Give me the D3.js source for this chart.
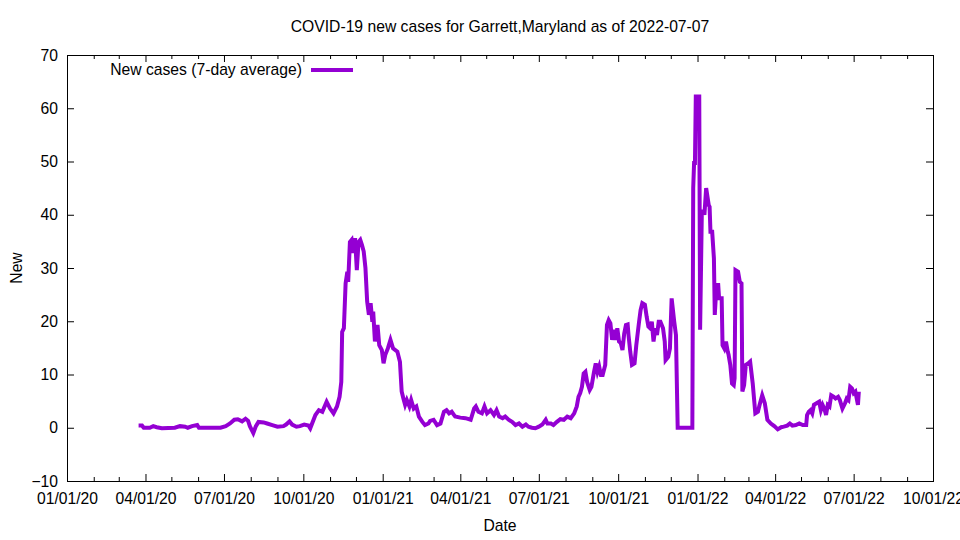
<!DOCTYPE html>
<html>
<head>
<meta charset="utf-8">
<script src="https://cdn.jsdelivr.net/npm/d3@7"></script>
<style>
  body { margin: 0; background: #fff; }
  svg { font-family: "Liberation Sans", Arial, sans-serif; }
</style>
</head>
<body>
<script>
'use strict';

// 7-day average of new cases
var dates = [
  "2020-03-24","2020-03-28","2020-03-30","2020-04-06","2020-04-10","2020-04-14","2020-04-20",
  "2020-05-05","2020-05-11","2020-05-17","2020-05-20","2020-05-25","2020-05-31","2020-06-02",
  "2020-06-27","2020-07-03","2020-07-08","2020-07-13","2020-07-17","2020-07-22","2020-07-26",
  "2020-07-29","2020-07-31","2020-08-04","2020-08-07","2020-08-10","2020-08-16","2020-08-20",
  "2020-08-26","2020-09-01","2020-09-08","2020-09-11","2020-09-15","2020-09-18","2020-09-23",
  "2020-09-27","2020-10-02","2020-10-07","2020-10-09","2020-10-15","2020-10-19","2020-10-23",
  "2020-10-28","2020-11-01","2020-11-05","2020-11-09","2020-11-12","2020-11-14","2020-11-15",
  "2020-11-17","2020-11-19","2020-11-21","2020-11-22","2020-11-24","2020-11-26","2020-11-28",
  "2020-11-30","2020-12-02","2020-12-04","2020-12-06","2020-12-08","2020-12-10","2020-12-12",
  "2020-12-14","2020-12-16","2020-12-18","2020-12-20","2020-12-21","2020-12-23","2020-12-26",
  "2020-12-28","2020-12-31","2021-01-02","2021-01-04","2021-01-07","2021-01-10","2021-01-13",
  "2021-01-18","2021-01-21","2021-01-23","2021-01-25","2021-01-27","2021-01-29","2021-02-01",
  "2021-02-03","2021-02-06","2021-02-09","2021-02-12","2021-02-16","2021-02-19","2021-02-23",
  "2021-02-25","2021-03-01","2021-03-05","2021-03-09","2021-03-13","2021-03-16","2021-03-19",
  "2021-03-22","2021-03-26","2021-04-01","2021-04-07","2021-04-13","2021-04-17","2021-04-19",
  "2021-04-22","2021-04-26","2021-04-29","2021-05-02","2021-05-06","2021-05-10","2021-05-13",
  "2021-05-16","2021-05-20","2021-05-23","2021-05-27","2021-05-31","2021-06-04","2021-06-08",
  "2021-06-12","2021-06-16","2021-06-19","2021-06-23","2021-06-27","2021-07-01","2021-07-05",
  "2021-07-09","2021-07-11","2021-07-15","2021-07-18","2021-07-22","2021-07-26","2021-07-30",
  "2021-08-03","2021-08-07","2021-08-11","2021-08-14","2021-08-16","2021-08-18","2021-08-20",
  "2021-08-22","2021-08-24","2021-08-26","2021-08-29","2021-08-31","2021-09-03","2021-09-05",
  "2021-09-07","2021-09-09","2021-09-11","2021-09-13","2021-09-16","2021-09-18","2021-09-20",
  "2021-09-22","2021-09-24","2021-09-26","2021-09-28","2021-09-30","2021-10-02","2021-10-04",
  "2021-10-06","2021-10-08","2021-10-10","2021-10-12","2021-10-13","2021-10-15","2021-10-17",
  "2021-10-20","2021-10-22","2021-10-25","2021-10-27","2021-10-29","2021-11-01","2021-11-03",
  "2021-11-05","2021-11-07","2021-11-09","2021-11-11","2021-11-13","2021-11-15","2021-11-17",
  "2021-11-19","2021-11-22","2021-11-24","2021-11-25","2021-11-28","2021-11-30","2021-12-02",
  "2021-12-05","2021-12-07","2021-12-09","2021-12-26","2021-12-27","2021-12-28","2021-12-29",
  "2021-12-30","2022-01-03","2022-01-04","2022-01-06","2022-01-08","2022-01-09","2022-01-11",
  "2022-01-14","2022-01-15","2022-01-16","2022-01-18","2022-01-20","2022-01-21","2022-01-23",
  "2022-01-25","2022-01-26","2022-01-29","2022-01-30","2022-02-01","2022-02-03","2022-02-05",
  "2022-02-06","2022-02-08","2022-02-10","2022-02-12","2022-02-13","2022-02-14","2022-02-17",
  "2022-02-19","2022-02-21","2022-02-22","2022-02-24","2022-02-26","2022-03-01","2022-03-03",
  "2022-03-06","2022-03-09","2022-03-12","2022-03-14","2022-03-17","2022-03-20","2022-03-23",
  "2022-03-27","2022-03-31","2022-04-04","2022-04-08","2022-04-11","2022-04-15","2022-04-18",
  "2022-04-21","2022-04-25","2022-04-29","2022-05-03","2022-05-07","2022-05-08","2022-05-10",
  "2022-05-12","2022-05-14","2022-05-16","2022-05-19","2022-05-22","2022-05-24","2022-05-26",
  "2022-05-28","2022-05-30","2022-06-01","2022-06-03","2022-06-05","2022-06-08","2022-06-10",
  "2022-06-13","2022-06-15","2022-06-18","2022-06-21","2022-06-23","2022-06-25","2022-06-27",
  "2022-06-29","2022-07-01","2022-07-03","2022-07-06","2022-07-07"
];

var newCases = [
  0.4, 0.4, 0.0, 0.0, 0.3, 0.1, -0.1,
  0.0, 0.3, 0.2, 0.0, 0.3, 0.5, 0.0,
  0.0, 0.3, 0.8, 1.5, 1.6, 1.2, 1.7,
  1.3, 0.3, -1.0, 0.3, 1.1, 1.0, 0.8,
  0.5, 0.2, 0.3, 0.6, 1.2, 0.6, 0.2,
  0.3, 0.6, 0.4, -0.1, 2.4, 3.3, 3.0,
  4.9, 3.6, 2.7, 4.0, 5.8, 8.6, 18.0,
  18.7, 27.1, 29.3, 27.4, 34.9, 35.3, 32.8,
  35.6, 29.6, 34.9, 35.3, 34.3, 33.1, 30.0,
  23.7, 21.2, 23.4, 19.9, 21.8, 16.2, 19.3,
  15.5, 14.6, 12.1, 13.7, 14.9, 16.5, 14.9,
  14.3, 12.4, 6.8, 5.5, 4.3, 5.2, 4.0,
  5.2, 3.6, 4.0, 2.1, 1.1, 0.5, 0.8,
  1.3, 1.5, 0.5, 0.8, 3.0, 3.3, 2.7,
  3.0, 2.1, 1.9, 1.8, 1.5, 3.6, 4.0,
  3.0, 2.7, 4.0, 2.7, 3.3, 2.4, 3.3,
  2.1, 1.8, 2.1, 1.5, 1.1, 0.5, 0.8,
  0.2, 0.6, 0.2, 0.0, -0.1, 0.2, 0.6,
  1.5, 0.8, 0.8, 0.5, 1.1, 1.6, 1.5,
  2.1, 1.8, 2.7, 4.0, 5.8, 6.5, 7.7,
  10.2, 10.5, 8.6, 7.1, 7.7, 10.5, 12.1,
  10.5, 11.5, 9.9, 9.9, 11.8, 19.3, 20.2,
  19.6, 16.5, 18.4, 16.5, 18.7, 16.2, 15.9,
  14.6, 17.7, 19.3, 19.4, 17.4, 14.3, 11.8,
  12.1, 15.5, 19.6, 22.1, 23.4, 23.1, 20.9,
  19.0, 18.7, 19.9, 16.2, 18.7, 17.4, 19.9,
  19.9, 18.7, 16.2, 12.7, 13.3, 14.9, 24.3,
  19.9, 17.4, 0.0, 0.0, 45.0, 49.7, 49.7,
  62.2, 62.2, 18.4, 40.6, 40.6, 40.0, 45.0,
  41.8, 41.5, 36.8, 36.8, 31.8, 21.2, 26.8,
  26.8, 24.3, 24.3, 15.5, 14.9, 16.2, 14.3,
  13.7, 11.8, 8.3, 8.0, 9.3, 29.6, 29.3,
  27.4, 27.1, 6.8, 8.0, 11.8, 12.1, 12.4,
  8.3, 2.7, 3.0, 4.3, 6.1, 4.6, 1.5,
  0.8, 0.3, -0.3, 0.1, 0.2, 0.4, 0.8,
  0.4, 0.5, 0.8, 0.5, 0.5, 2.4, 3.0,
  3.3, 2.7, 4.3, 4.6, 4.9, 3.3, 4.3,
  3.6, 2.4, 4.3, 4.0, 6.1, 5.8, 5.5,
  5.8, 5.2, 3.6, 4.6, 5.5, 5.2, 7.7,
  7.4, 6.5, 6.8, 4.3, 6.8
];

var xDomain = ["2020-01-01", "2022-10-01"];
var yTicks = [-10, 0, 10, 20, 30, 40, 50, 60, 70];

var title = "COVID-19 new cases for Garrett,Maryland as of 2022-07-07";
var seriesLabel = "New cases (7-day average)";
var lineColor = "#9400d3";
var fontSize = "15.7px";

var parse = d3.utcParse("%Y-%m-%d");
var data = dates.map(function(d, i) {
  return {date: parse(d), value: newCases[i]};
});

var W = 960, H = 540;
var margin = {top: 55, right: 27, bottom: 59, left: 67};
var width = W - margin.left - margin.right;
var height = H - margin.top - margin.bottom;

var svg = d3.select("body")
  .append("svg")
  .attr("width", W)
  .attr("height", H);

var g = svg.append("g")
  .attr("transform", "translate(" + margin.left + "," + margin.top + ")");

var x = d3.scaleUtc()
  .domain(xDomain.map(parse))
  .range([0, width]);

var y = d3.scaleLinear()
  .domain([-10, 70])
  .range([height, 0]);

var majorTicks = d3.utcMonth.every(3).range(x.domain()[0], d3.utcDay.offset(x.domain()[1], 1));
var minorTicks = d3.utcMonth.range(x.domain()[0], x.domain()[1])
  .filter(function(d) { return d.getUTCMonth() % 3 !== 0; });

var fmt = d3.utcFormat("%m/%d/%y");

// inward ticks, gnuplot style
function styleAxis(sel) {
  sel.select(".domain").remove();
  sel.selectAll("line").attr("stroke", "#000");
  sel.selectAll("text")
    .attr("fill", "#000")
    .style("font-size", fontSize)
    .style("font-family", "'Liberation Sans', Arial, sans-serif");
}

g.append("g")
  .attr("transform", "translate(0," + height + ")")
  .call(d3.axisBottom(x).tickValues(majorTicks).tickFormat(fmt).tickSize(-7).tickPadding(12))
  .call(styleAxis);

g.append("g")
  .attr("transform", "translate(0," + height + ")")
  .call(d3.axisBottom(x).tickValues(minorTicks).tickFormat("").tickSize(-4))
  .call(styleAxis);

g.append("g")
  .call(d3.axisTop(x).tickValues(majorTicks).tickFormat("").tickSize(-7))
  .call(styleAxis);

g.append("g")
  .call(d3.axisTop(x).tickValues(minorTicks).tickFormat("").tickSize(-4))
  .call(styleAxis);

g.append("g")
  .call(d3.axisLeft(y).tickValues(yTicks).tickSize(-7).tickPadding(9))
  .call(styleAxis);

g.append("g")
  .attr("transform", "translate(" + width + ",0)")
  .call(d3.axisRight(y).tickValues(yTicks).tickFormat("").tickSize(-7))
  .call(styleAxis);

// border
g.append("rect")
  .attr("width", width)
  .attr("height", height)
  .attr("fill", "none")
  .attr("stroke", "#000")
  .attr("stroke-width", 1)
  .attr("shape-rendering", "crispEdges");

var line = d3.line()
  .x(function(d) { return x(d.date); })
  .y(function(d) { return y(d.value); });

g.append("path")
  .datum(data)
  .attr("fill", "none")
  .attr("stroke", lineColor)
  .attr("stroke-width", 4)
  .attr("stroke-linejoin", "miter")
  .attr("d", line);

// legend
g.append("text")
  .attr("x", 235)
  .attr("y", 15)
  .attr("dy", "0.35em")
  .attr("text-anchor", "end")
  .style("font-size", fontSize)
  .text(seriesLabel);

g.append("line")
  .attr("x1", 244)
  .attr("x2", 286)
  .attr("y1", 15)
  .attr("y2", 15)
  .attr("stroke", lineColor)
  .attr("stroke-width", 4);

// titles
svg.append("text")
  .attr("x", margin.left + width / 2)
  .attr("y", 27)
  .attr("dy", "0.35em")
  .attr("text-anchor", "middle")
  .style("font-size", fontSize)
  .text(title);

svg.append("text")
  .attr("x", margin.left + width / 2)
  .attr("y", 526)
  .attr("dy", "0.35em")
  .attr("text-anchor", "middle")
  .style("font-size", fontSize)
  .text("Date");

svg.append("text")
  .attr("transform", "translate(16," + (margin.top + height / 2) + ") rotate(-90)")
  .attr("dy", "0.35em")
  .attr("text-anchor", "middle")
  .style("font-size", fontSize)
  .text("New");
</script>
</body>
</html>
